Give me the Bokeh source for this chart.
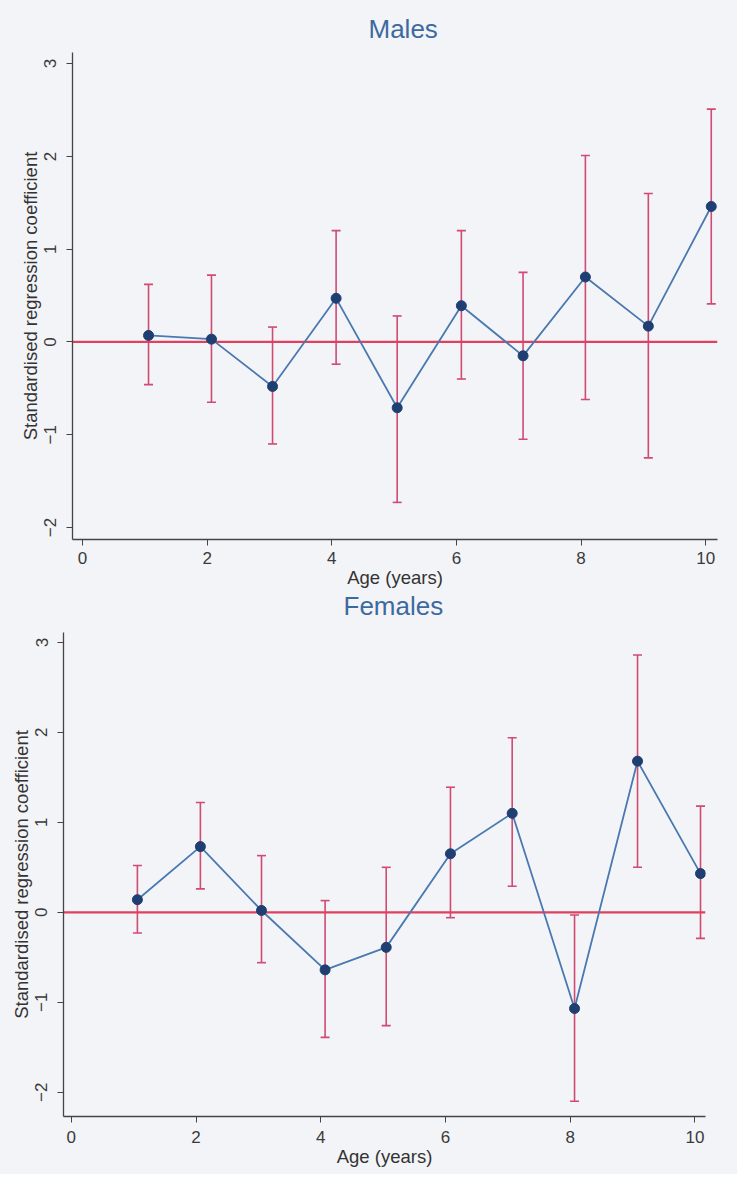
from bokeh.plotting import figure
from bokeh.models import ColumnDataSource, Whisker, TeeHead, Span, FixedTicker, Range1d, Title
from bokeh.layouts import column
from bokeh.embed import file_html
from bokeh.resources import INLINE

# ---- data ----
age = [1.06, 2.07, 3.05, 4.07, 5.05, 6.08, 7.07, 8.07, 9.08, 10.09]

male_coef = [0.07, 0.03, -0.48, 0.47, -0.71, 0.39, -0.15, 0.70, 0.17, 1.46]
male_lower = [-0.46, -0.65, -1.10, -0.24, -1.73, -0.40, -1.05, -0.62, -1.25, 0.41]
male_upper = [0.62, 0.72, 0.16, 1.20, 0.28, 1.20, 0.75, 2.01, 1.60, 2.51]

female_coef = [0.14, 0.73, 0.02, -0.64, -0.39, 0.65, 1.10, -1.07, 1.68, 0.43]
female_lower = [-0.23, 0.26, -0.56, -1.39, -1.26, -0.06, 0.29, -2.10, 0.50, -0.29]
female_upper = [0.52, 1.22, 0.63, 0.13, 0.50, 1.39, 1.94, -0.03, 2.86, 1.18]

x_ticks = [0, 2, 4, 6, 8, 10]
y_ticks = [-2, -1, 0, 1, 2, 3]
y_tick_labels = {-2: "\u22122", -1: "\u22121", 0: "0", 1: "1", 2: "2", 3: "3"}

BG = "#f3f4f7"
FONT = "Liberation Sans"
TITLE_C = "#3d6a9e"
LINE_C = "#4a78b0"
DOT_C = "#1f3f73"
ERR_C = "#d04a72"
ZERO_C = "#e0405f"


def make_title(text, offset, standoff, valign):
    return Title(text=text, align="left", offset=offset, standoff=standoff,
                 vertical_align=valign, text_font=FONT, text_font_size="26px",
                 text_font_style="normal", text_color=TITLE_C)


def panel(coef, lower, upper, xr, yr, fw, fh, bl, br, bt, bb, x_label_standoff):
    p = figure(frame_width=fw, frame_height=fh,
               min_border_left=bl, min_border_right=br,
               min_border_top=bt, min_border_bottom=bb,
               x_range=Range1d(*xr), y_range=Range1d(*yr),
               output_backend="svg", toolbar_location=None)
    p.background_fill_color = BG
    p.border_fill_color = BG
    p.outline_line_color = None
    p.grid.visible = False

    p.xaxis.ticker = FixedTicker(ticks=x_ticks)
    p.yaxis.ticker = FixedTicker(ticks=y_ticks)
    p.yaxis.major_label_overrides = y_tick_labels
    p.yaxis.major_label_orientation = "vertical"
    for ax in (p.xaxis, p.yaxis):
        ax.minor_tick_line_color = None
        ax.major_tick_in = 0
        ax.major_tick_out = 6
        ax.axis_line_color = "#444444"
        ax.axis_line_width = 1.3
        ax.major_tick_line_color = "#444444"
        ax.major_label_text_font = FONT
        ax.major_label_text_font_size = "17px"
        ax.major_label_text_color = "#3a3a3a"
        ax.axis_label_text_font = FONT
        ax.axis_label_text_font_size = "18.5px"
        ax.axis_label_text_font_style = "normal"
        ax.axis_label_text_color = "#333333"
    p.xaxis.axis_label = "Age (years)"
    p.yaxis.axis_label = "Standardised regression coefficient"
    p.xaxis.major_label_standoff = x_label_standoff
    p.xaxis.axis_label_standoff = 0
    p.yaxis.major_label_standoff = 10
    p.yaxis.axis_label_standoff = 1

    src = ColumnDataSource(dict(x=age, y=coef, lower=lower, upper=upper))
    w = Whisker(source=src, base="x", lower="lower", upper="upper",
                line_color=ERR_C, line_width=1.6, level="underlay",
                upper_head=TeeHead(size=9, line_color=ERR_C, line_width=1.6),
                lower_head=TeeHead(size=9, line_color=ERR_C, line_width=1.6))
    p.add_layout(w)
    p.add_layout(Span(location=0, dimension="width", line_color=ZERO_C,
                      line_width=2.2, level="underlay"))
    p.line("x", "y", source=src, line_color=LINE_C, line_width=1.8)
    p.scatter("x", "y", source=src, size=10, fill_color=DOT_C, line_color=DOT_C)
    return p


males = panel(male_coef, male_lower, male_upper,
              (-0.16, 10.19), (-2.13, 3.12), 645, 487, 72, 20, 52, 90, 6)
males.add_layout(make_title("Males", 296, 17, "bottom"), "above")
# heading of the lower panel, drawn directly beneath the upper panel's axis label
males.add_layout(make_title("Females", 271, 0, "top"), "below")

females = panel(female_coef, female_lower, female_upper,
                (-0.125, 10.17), (-2.27, 3.11), 642, 484, 72, 23, 3, 58, 8)
# the lower panel sits a little further left in the original
females.margin = (0, 0, 0, -9)

layout = column(males, females, spacing=0, styles={"background-color": BG})
open("out.html", "w").write(file_html(layout, INLINE))
